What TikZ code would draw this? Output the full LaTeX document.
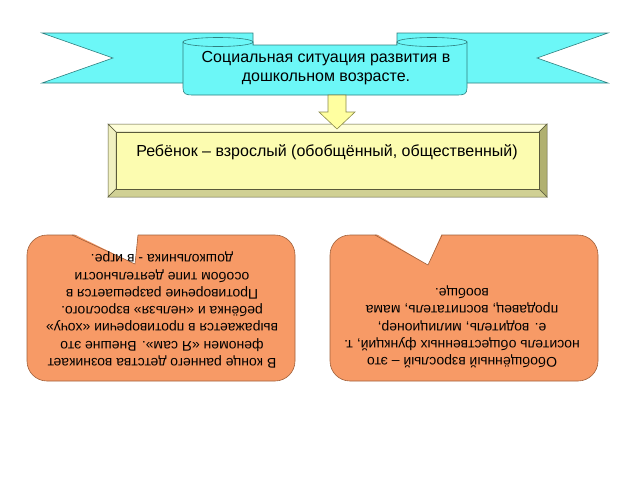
\documentclass[tikz,border=0pt]{standalone}
\usepackage{fontspec}
\setmainfont{Liberation Sans}
\definecolor{ribboncyan}{HTML}{6CF7F7}
\definecolor{ribbonedge}{HTML}{2F7F7F}
\definecolor{bevface}{HTML}{FCFCB0}
\definecolor{bevtop}{HTML}{FEFED8}
\definecolor{bevleft}{HTML}{F0F0C0}
\definecolor{bevright}{HTML}{B0B070}
\definecolor{bevbot}{HTML}{D0D094}
\definecolor{bevedge}{HTML}{5A5A3A}
\definecolor{arrowfill}{HTML}{FFFFA0}
\definecolor{arrowedge}{HTML}{8A8A4A}
\definecolor{calloutorange}{HTML}{F79A66}
\definecolor{calloutedge}{HTML}{A0603A}
\begin{document}
\begin{tikzpicture}[x=1pt,y=-1pt,
   ribbon/.style={fill=ribboncyan,draw=ribbonedge,line width=0.6pt},
   bevel/.style={fill=#1,draw=bevedge,line width=0.5pt},
   blockarrow/.style={fill=arrowfill,draw=arrowedge,line width=0.6pt},
   callout/.style={fill=calloutorange,draw=calloutedge,line width=0.6pt},
   every node/.style={align=center,inner sep=0pt}]

\useasboundingbox (0,0) rectangle (640,480);

% ribbon
\path[ribbon] (42,33) -- (253,33) -- (253,83) -- (42,83) -- (113,58) -- cycle;
\path[ribbon] (608,33) -- (397,33) -- (397,83) -- (608,83) -- (537,58) -- cycle;
\path[ribbon] (183,42) -- (183,88) .. controls (183,94) and (186,95) .. (192,95)
   -- (458,95) .. controls (464,95) and (467,94) .. (467,88) -- (467,42)
   -- (397,42) -- (397,45) -- (253,45) -- (253,42) -- cycle;
\path[ribbon] (218,42) ellipse [x radius=35,y radius=4.5];
\path[ribbon] (432,42) ellipse [x radius=35,y radius=4.5];
\node[font=\fontsize{16}{19}\selectfont] (title) at (326,68)
   {Социальная ситуация развития в\\дошкольном возрасте.};

% bevel box
\path[bevel=bevtop] (108,124) -- (547,124) -- (539,132) -- (116,132) -- cycle;
\path[bevel=bevleft] (108,124) -- (116,132) -- (116,189) -- (108,197) -- cycle;
\path[bevel=bevright] (547,124) -- (547,197) -- (539,189) -- (539,132) -- cycle;
\path[bevel=bevbot] (108,197) -- (116,189) -- (539,189) -- (547,197) -- cycle;
\path[bevel=bevface] (116,132) rectangle (539,189);
\node[font=\fontsize{16}{19}\selectfont] (child) at (327,152)
   {Ребёнок – взрослый (обобщённый, общественный)};

% arrow
\path[blockarrow] (328,95) -- (346,95) -- (346,112) -- (355,112) -- (337,129)
   -- (319,112) -- (328,112) -- cycle;

% callouts
\path[callout,rounded corners=20pt] (27,235) rectangle (295,381);
\fill[white] (72,233) -- (135,264) -- (138,233) -- cycle;
\draw[calloutedge,line width=0.6pt] (72,235) -- (135,264) -- (138,235);
\path[callout,rounded corners=20pt] (330,235) rectangle (598,381);
\fill[white] (375,233) -- (428,265) -- (442,233) -- cycle;
\draw[calloutedge,line width=0.6pt] (375,235) -- (428,265) -- (442,235);

\node[rotate=180,font=\fontsize{14}{17.3}\selectfont] (early) at (162,310)
   {В конце раннего детства возникает\\феномен «Я сам». Внешне это\\выражается в противоречии «хочу»\\ребёнка и «нельзя» взрослого.\\Противоречие разрешается в\\особом типе деятельности\\дошкольника - в игре.};
\node[rotate=180,font=\fontsize{14}{17.3}\selectfont] (adult) at (462,327)
   {Обобщённый взрослый – это\\носитель общественных функций, т.\\е. водитель, милиционер,\\продавец, воспитатель, мама\\вообще.};

\end{tikzpicture}
\end{document}
